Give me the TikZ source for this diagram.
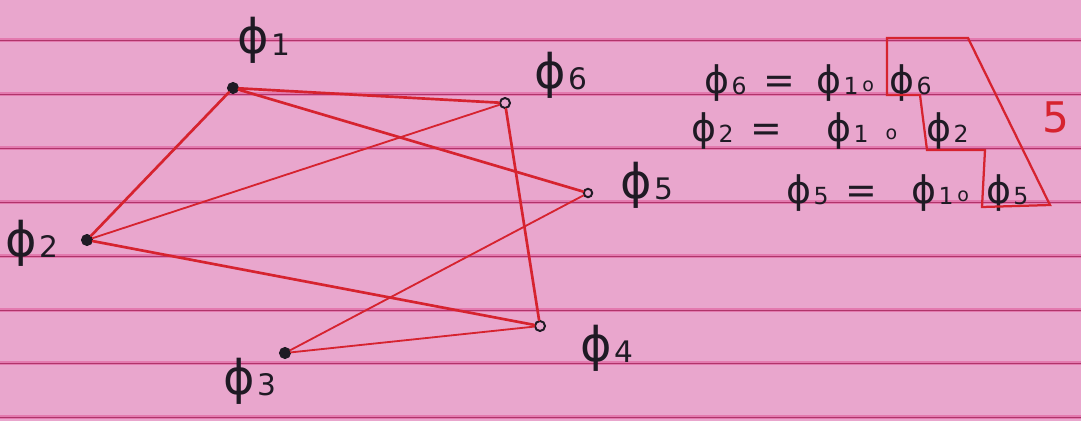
\documentclass[tikz,border=0pt]{standalone}
\usepackage{fontspec}
\usepackage{graphicx}
\usepackage{xcolor}
\usepackage{tikz}
\usetikzlibrary{positioning}
\newfontfamily\handfont{DejaVu Sans}
\newcommand{\phn}[1]{ϕ\kern0.06em\raisebox{-0.04em}{\scalebox{0.62}{#1}}}
\newcommand{\compo}{\raisebox{0.05em}{\scalebox{0.5}{o}}}
\definecolor{paperpink}{HTML}{E9A6CD}
\definecolor{ruleglow}{HTML}{E37AAF}
\definecolor{rulecore}{HTML}{B0346A}
\definecolor{penred}{HTML}{D6232F}
\definecolor{penink}{HTML}{1F1A24}

\begin{document}
\begin{tikzpicture}[
  x=0.025cm, y=-0.025cm,
  vertex/.style={
    circle,
    draw=penink,
    line width=1.4pt,
    inner sep=0pt,
    minimum size=2.5mm
  },
  dotvertex/.style={vertex, fill=penink},
  ringvertex/.style={vertex, fill=paperpink},
  philabel/.style={font=\handfont\fontsize{34}{36}\selectfont, text=penink, inner sep=0pt, anchor=base west},
  eqtext/.style={font=\handfont\fontsize{27}{29}\selectfont, text=penink, inner sep=0pt, anchor=base west},
  redline/.style={draw=penred, line width=1.9pt, line cap=round},
  thinred/.style={redline, line width=1.3pt},
  stairbox/.style={draw=penred, line width=1.6pt, line join=miter},
  ruleglowline/.style={draw=ruleglow, line width=2.4pt},
  rulecoreline/.style={draw=rulecore, line width=0.7pt}
]

\fill[paperpink] (0,0) rectangle (1081,421);
\useasboundingbox (0,0) rectangle (1081,421);

\foreach \y in {40,94,148,202,256,310,363,417} {
  \draw[ruleglowline] (0,\y) -- (1081,\y);
  \draw[rulecoreline] (0,\y) -- (1081,\y);
}

\node[dotvertex] (v1) at (233,88) {};
\node[ringvertex] (v6) at (505,103) {};
\node[ringvertex, minimum size=2.1mm] (v5) at (588,193) {};
\node[dotvertex] (v2) at (87,240) {};
\node[ringvertex] (v4) at (540,326) {};
\node[dotvertex] (v3) at (285,353) {};

\node[philabel] (l1) at (237,54) {\phn{1}};
\node[philabel] (l6) at (534,88) {\phn{6}};
\node[philabel] (l5) at (620,198) {\phn{5}};
\node[philabel] (l2) at (5,256) {\phn{2}};
\node[philabel] (l4) at (580,361) {\phn{4}};
\node[philabel] (l3) at (223,394) {\phn{3}};

\draw[redline] (v1) -- (v2);
\draw[redline] (v1) -- (v6);
\draw[redline] (v1) -- (v5);
\draw[thinred] (v2) -- (v6);
\draw[redline] (v2) -- (v4);
\draw[redline] (v6) -- (v4);
\draw[thinred] (v3) -- (v5);
\draw[thinred] (v3) -- (v4);

\node[eqtext] (e6a) at (704,93) {\phn{6}\hspace{0.45em}=};
\node[eqtext] (e6b) at (816,93) {\phn{1}\hspace{0.1em}\compo\hspace{0.4em}\phn{6}};
\node[eqtext] (e2a) at (691,141) {\phn{2}\hspace{0.45em}=};
\node[eqtext] (e2b) at (826,141) {\phn{1}\hspace{0.45em}\compo};
\node[eqtext] (e2c) at (926,141) {\phn{2}};
\node[eqtext] (e5a) at (786,203) {\phn{5}\hspace{0.45em}=};
\node[eqtext] (e5b) at (911,203) {\phn{1}\hspace{0.1em}\compo\hspace{0.45em}\phn{5}};

\draw[stairbox] (887,38) -- (968,38) -- (1050,205) -- (982,207) -- (985,150)
  -- (927,150) -- (920,95) -- (887,95) -- cycle;

\node[font=\handfont\fontsize{30}{32}\selectfont, text=penred, inner sep=0pt] (count) at (1056,117) {5};

\end{tikzpicture}
\end{document}
